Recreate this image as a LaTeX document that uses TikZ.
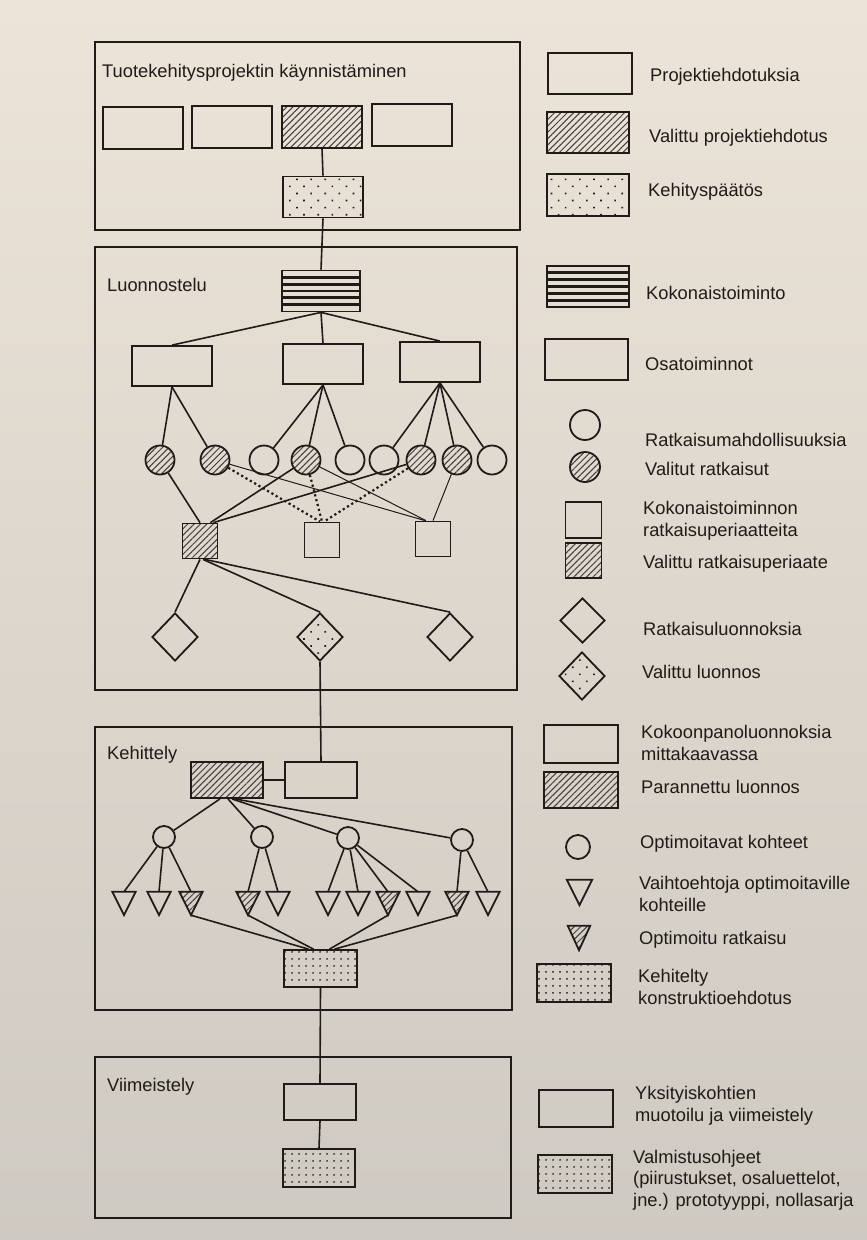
\documentclass[tikz,border=0pt]{standalone}
\usepackage{fontspec}
\setmainfont{Liberation Sans}
\usetikzlibrary{shapes.geometric,patterns.meta,calc}
\definecolor{ink}{RGB}{30,27,25}
\definecolor{pagetop}{RGB}{236,228,216}
\definecolor{pagebot}{RGB}{206,201,194}
\begin{document}
\begin{tikzpicture}[x=1pt,y=-1pt,
  font=\fontsize{18.3}{21.5}\selectfont,
  every node/.style={text=ink},
  frame/.style={draw=ink, line width=2pt, rectangle, inner sep=0pt},
  bx/.style={draw=ink, line width=1.8pt, rectangle, inner sep=0pt, minimum width=80pt, minimum height=42pt},
  hatched/.style={pattern={Lines[angle=45,distance=4.5pt,line width=1pt]}, pattern color=ink!85},
  dotsparse/.style={pattern={Dots[angle=45,distance=10pt,radius=1.15pt]}, pattern color=ink},
  dotdense/.style={pattern={Dots[distance=6.5pt,radius=1.05pt]}, pattern color=ink},
  stripes/.style={path picture={\foreach \k in {1,...,5}{\fill[ink] ($(path picture bounding box.north west)!\k/6!(path picture bounding box.south west)+(0,-1.35)$) rectangle ($(path picture bounding box.north east)!\k/6!(path picture bounding box.south east)+(0,1.35)$);}}},
  circ/.style={circle, draw=ink, line width=1.8pt, inner sep=0pt, minimum size=29pt},
  sq/.style={bx, minimum width=35pt, minimum height=35pt},
  dia/.style={diamond, draw=ink, line width=1.8pt, inner sep=0pt, minimum width=46pt, minimum height=48pt},
  triholder/.style={rectangle, inner sep=0pt, minimum width=23pt, minimum height=23pt},
  triline/.style={draw=ink, line width=1.8pt, line join=miter},
  con/.style={draw=ink, line width=1.6pt},
  thinc/.style={draw=ink, line width=1pt},
  dotc/.style={draw=ink, line width=2.2pt, dash pattern=on 2.2pt off 2.8pt},
  lbl/.style={anchor=west, align=left, inner sep=0pt}
]
\shade[top color=pagetop, bottom color=pagebot] (0,0) rectangle (867,1240);
\useasboundingbox (0,0) rectangle (867,1240);

% ---------- frames ----------
\node[frame, minimum width=425pt, minimum height=188pt] (B1) at (307.5,136) {};
\node[frame, minimum width=422pt, minimum height=443pt] (B2) at (306,468.5) {};
\node[frame, minimum width=417pt, minimum height=283pt] (B3) at (303.5,868.5) {};
\node[frame, minimum width=416pt, minimum height=161pt] (B4) at (303,1137.5) {};

\node[lbl] (T1) at (102,73) {Tuotekehitysprojektin käynnistäminen};
\node[lbl] (T2) at (107,285) {Luonnostelu};
\node[lbl] (T3) at (107,755) {Kehittely};
\node[lbl] (T4) at (107,1087) {Viimeistely};

% ---------- box 1 ----------
\node[bx] (p1) at (143,128) {};
\node[bx] (p2) at (232,127) {};
\node[bx, hatched] (p3) at (322,127) {};
\node[bx] (p4) at (412,125) {};
\node[bx, dotsparse, minimum height=41pt] (kp) at (323,197) {};

% ---------- box 2 ----------
\node[bx, stripes, minimum width=78pt, minimum height=41pt] (ko) at (321,291) {};
\node[bx, minimum height=40pt] (o1) at (172,366) {};
\node[bx, minimum height=40pt] (o2) at (323,364) {};
\node[bx, minimum height=40pt] (o3) at (440,362) {};

\node[circ, hatched] (c1) at (160,460) {};
\node[circ, hatched] (c2) at (215,460) {};
\node[circ] (c3) at (264,460) {};
\node[circ, hatched] (c4) at (306,460) {};
\node[circ] (c5) at (350,460) {};
\node[circ] (c6) at (384,460) {};
\node[circ, hatched] (c7) at (421,460) {};
\node[circ, hatched] (c8) at (457,460) {};
\node[circ] (c9) at (492,460) {};

\node[sq, hatched] (s1) at (200,541) {};
\node[sq] (s2) at (322,540) {};
\node[sq] (s3) at (433,539) {};

\node[dia] (d1) at (175,637) {};
\node[dia, dotsparse] (d2) at (320,637) {};
\node[dia] (d3) at (450,637) {};

% ---------- box 3 ----------
\node[bx, hatched, minimum width=72pt, minimum height=36pt] (pl) at (227,780) {};
\node[bx, minimum width=72pt, minimum height=36pt] (kl) at (321,780) {};

\node[circ, minimum size=22pt] (oc1) at (164,837) {};
\node[circ, minimum size=22pt] (oc2) at (262,837) {};
\node[circ, minimum size=22pt] (oc3) at (348,838) {};
\node[circ, minimum size=22pt] (oc4) at (462,840) {};

\foreach \i/\x in {1/124,2/159,3/191,4/248,5/278,6/328,7/358,8/388,9/418,10/457,11/488}
  \node[triholder] (t\i) at (\x,903.5) {};
\foreach \i in {3,4,8,10}
  \path[hatched] (t\i.north west) -- (t\i.north east) -- (t\i.south) -- cycle;
\foreach \i in {1,...,11}
  \draw[triline] (t\i.north west) -- (t\i.north east) -- (t\i.south) -- cycle;

\node[bx, dotdense, minimum width=73pt, minimum height=37pt] (kt) at (320.5,968.5) {};

% ---------- box 4 ----------
\node[bx, minimum width=72pt, minimum height=36pt] (yk) at (320,1102) {};
\node[bx, dotdense, minimum width=72pt, minimum height=38pt] (vo) at (319,1168) {};

% ---------- connectors ----------
\draw[con] (p3.south) -- (kp.north);
\draw[con] (kp.south) -- (ko.north);
\draw[con] (ko.south) -- (o1.north);
\draw[con] (ko.south) -- (o2.north);
\draw[con] (ko.south) -- (o3.north);
\foreach \c in {c1,c2} \draw[con] (o1.south) -- (\c);
\foreach \c in {c3,c4,c5} \draw[con] (o2.south) -- (\c);
\foreach \c in {c6,c7,c8,c9} \draw[con] (o3.south) -- (\c);

\draw[con] (c1) -- (s1.north);
\draw[con] (c4) -- ([xshift=-8pt]s1.north east);
\draw[con] (c7) -- ([xshift=-5pt]s1.north east);
\draw[dotc] (c2) -- ([xshift=-2pt]s2.north);
\draw[dotc] (c4) -- (s2.north);
\draw[dotc] (c7) -- ([xshift=2pt]s2.north);
\draw[thinc] (c2) -- ([xshift=-8pt]s3.north);
\draw[thinc] (c4) -- ([xshift=-7pt]s3.north);
\draw[thinc] (c8) -- (s3.north);

\draw[con] (s1.south) -- (d1.north);
\draw[con] ([xshift=3pt]s1.south) -- (d2.north);
\draw[con] ([xshift=5pt]s1.south) -- (d3.north);
\draw[con] (d2.south) -- (kl.north);

\draw[con] (pl.east) -- (kl.west);
\draw[con] ([xshift=-7pt]pl.south) -- (oc1);
\draw[con] ([xshift=1pt]pl.south) -- (oc2);
\draw[con] ([xshift=5pt]pl.south) -- (oc3);
\draw[con] ([xshift=8pt]pl.south) -- (oc4);
\foreach \t in {t1,t2,t3} \draw[con] (oc1) -- (\t.north);
\foreach \t in {t4,t5} \draw[con] (oc2) -- (\t.north);
\foreach \t in {t6,t7,t8,t9} \draw[con] (oc3) -- (\t.north);
\foreach \t in {t10,t11} \draw[con] (oc4) -- (\t.north);
\draw[con] (t3.south) -- ([xshift=-12pt]kt.north);
\draw[con] (t4.south) -- ([xshift=-7pt]kt.north);
\draw[con] (t8.south) -- ([xshift=9pt]kt.north);
\draw[con] (t10.south) -- ([xshift=14pt]kt.north);
\draw[con] (kt.south) -- (yk.north);
\draw[con] (yk.south) -- (vo.north);

% ---------- legend ----------
\node[bx, minimum width=84pt, minimum height=41pt] (L1) at (590,73.5) {};
\node[bx, hatched, minimum width=82pt, minimum height=41pt] (L2) at (588,132.5) {};
\node[bx, dotsparse, minimum width=82pt, minimum height=42pt] (L3) at (588,195) {};
\node[bx, stripes, minimum width=82pt, minimum height=41pt] (L4) at (588,286.5) {};
\node[bx, minimum width=83pt, minimum height=41pt] (L5) at (586.5,359.5) {};
\node[circ, minimum size=30pt] (L6) at (585,425) {};
\node[circ, hatched, minimum size=30pt] (L7) at (585,467) {};
\node[sq, minimum width=36pt, minimum height=36pt] (L8) at (583.5,520) {};
\node[sq, hatched, minimum width=36pt, minimum height=35pt] (L9) at (583.5,560.5) {};
\node[dia, minimum width=45pt, minimum height=45pt] (L10) at (582.5,620.5) {};
\node[dia, dotsparse, minimum width=46pt, minimum height=48pt] (L11) at (582,676) {};
\node[bx, minimum width=74pt, minimum height=38pt] (L12) at (581,744) {};
\node[bx, hatched, minimum width=74pt, minimum height=36pt] (L13) at (581,790) {};
\node[circ, minimum size=24pt] (L14) at (578,847) {};
\node[triholder, minimum width=25pt, minimum height=25pt] (L15) at (579.5,892.5) {};
\node[triholder, minimum width=22pt, minimum height=24pt] (L16) at (579,938) {};
\path[hatched] (L16.north west) -- (L16.north east) -- (L16.south) -- cycle;
\draw[triline] (L15.north west) -- (L15.north east) -- (L15.south) -- cycle;
\draw[triline] (L16.north west) -- (L16.north east) -- (L16.south) -- cycle;
\node[bx, dotdense, minimum width=74pt, minimum height=38pt] (L17) at (574,983) {};
\node[bx, minimum width=74pt, minimum height=37pt] (L18) at (576,1108.5) {};
\node[bx, dotdense, minimum width=74pt, minimum height=38pt] (L19) at (575,1174) {};

\node[lbl] (l1) at (650,77) {Projektiehdotuksia};
\node[lbl] (l2) at (649,138) {Valittu projektiehdotus};
\node[lbl] (l3) at (648,192) {Kehityspäätös};
\node[lbl] (l4) at (646,293) {Kokonaistoiminto};
\node[lbl] (l5) at (645,364) {Osatoiminnot};
\node[lbl] (l6) at (645,440) {Ratkaisumahdollisuuksia};
\node[lbl] (l7) at (645,469) {Valitut ratkaisut};
\node[lbl] (l8) at (643,521) {Kokonaistoiminnon\\ratkaisuperiaatteita};
\node[lbl] (l9) at (643,564) {Valittu ratkaisuperiaate};
\node[lbl] (l10) at (643,629) {Ratkaisuluonnoksia};
\node[lbl] (l11) at (642,672) {Valittu luonnos};
\node[lbl] (l12) at (641,743) {Kokoonpanoluonnoksia\\mittakaavassa};
\node[lbl] (l13) at (641,787) {Parannettu luonnos};
\node[lbl] (l14) at (640,844) {Optimoitavat kohteet};
\node[lbl] (l15) at (639,894) {Vaihtoehtoja optimoitaville\\kohteille};
\node[lbl] (l16) at (639,940) {Optimoitu ratkaisu};
\node[lbl] (l17) at (638,987) {Kehitelty\\konstruktioehdotus};
\node[lbl] (l18) at (635,1106) {Yksityiskohtien\\muotoilu ja viimeistely};
\node[lbl] (l19) at (633,1180) {Valmistusohjeet\\(piirustukset, osaluettelot,\\jne.) prototyyppi, nollasarja};
\end{tikzpicture}
\end{document}
